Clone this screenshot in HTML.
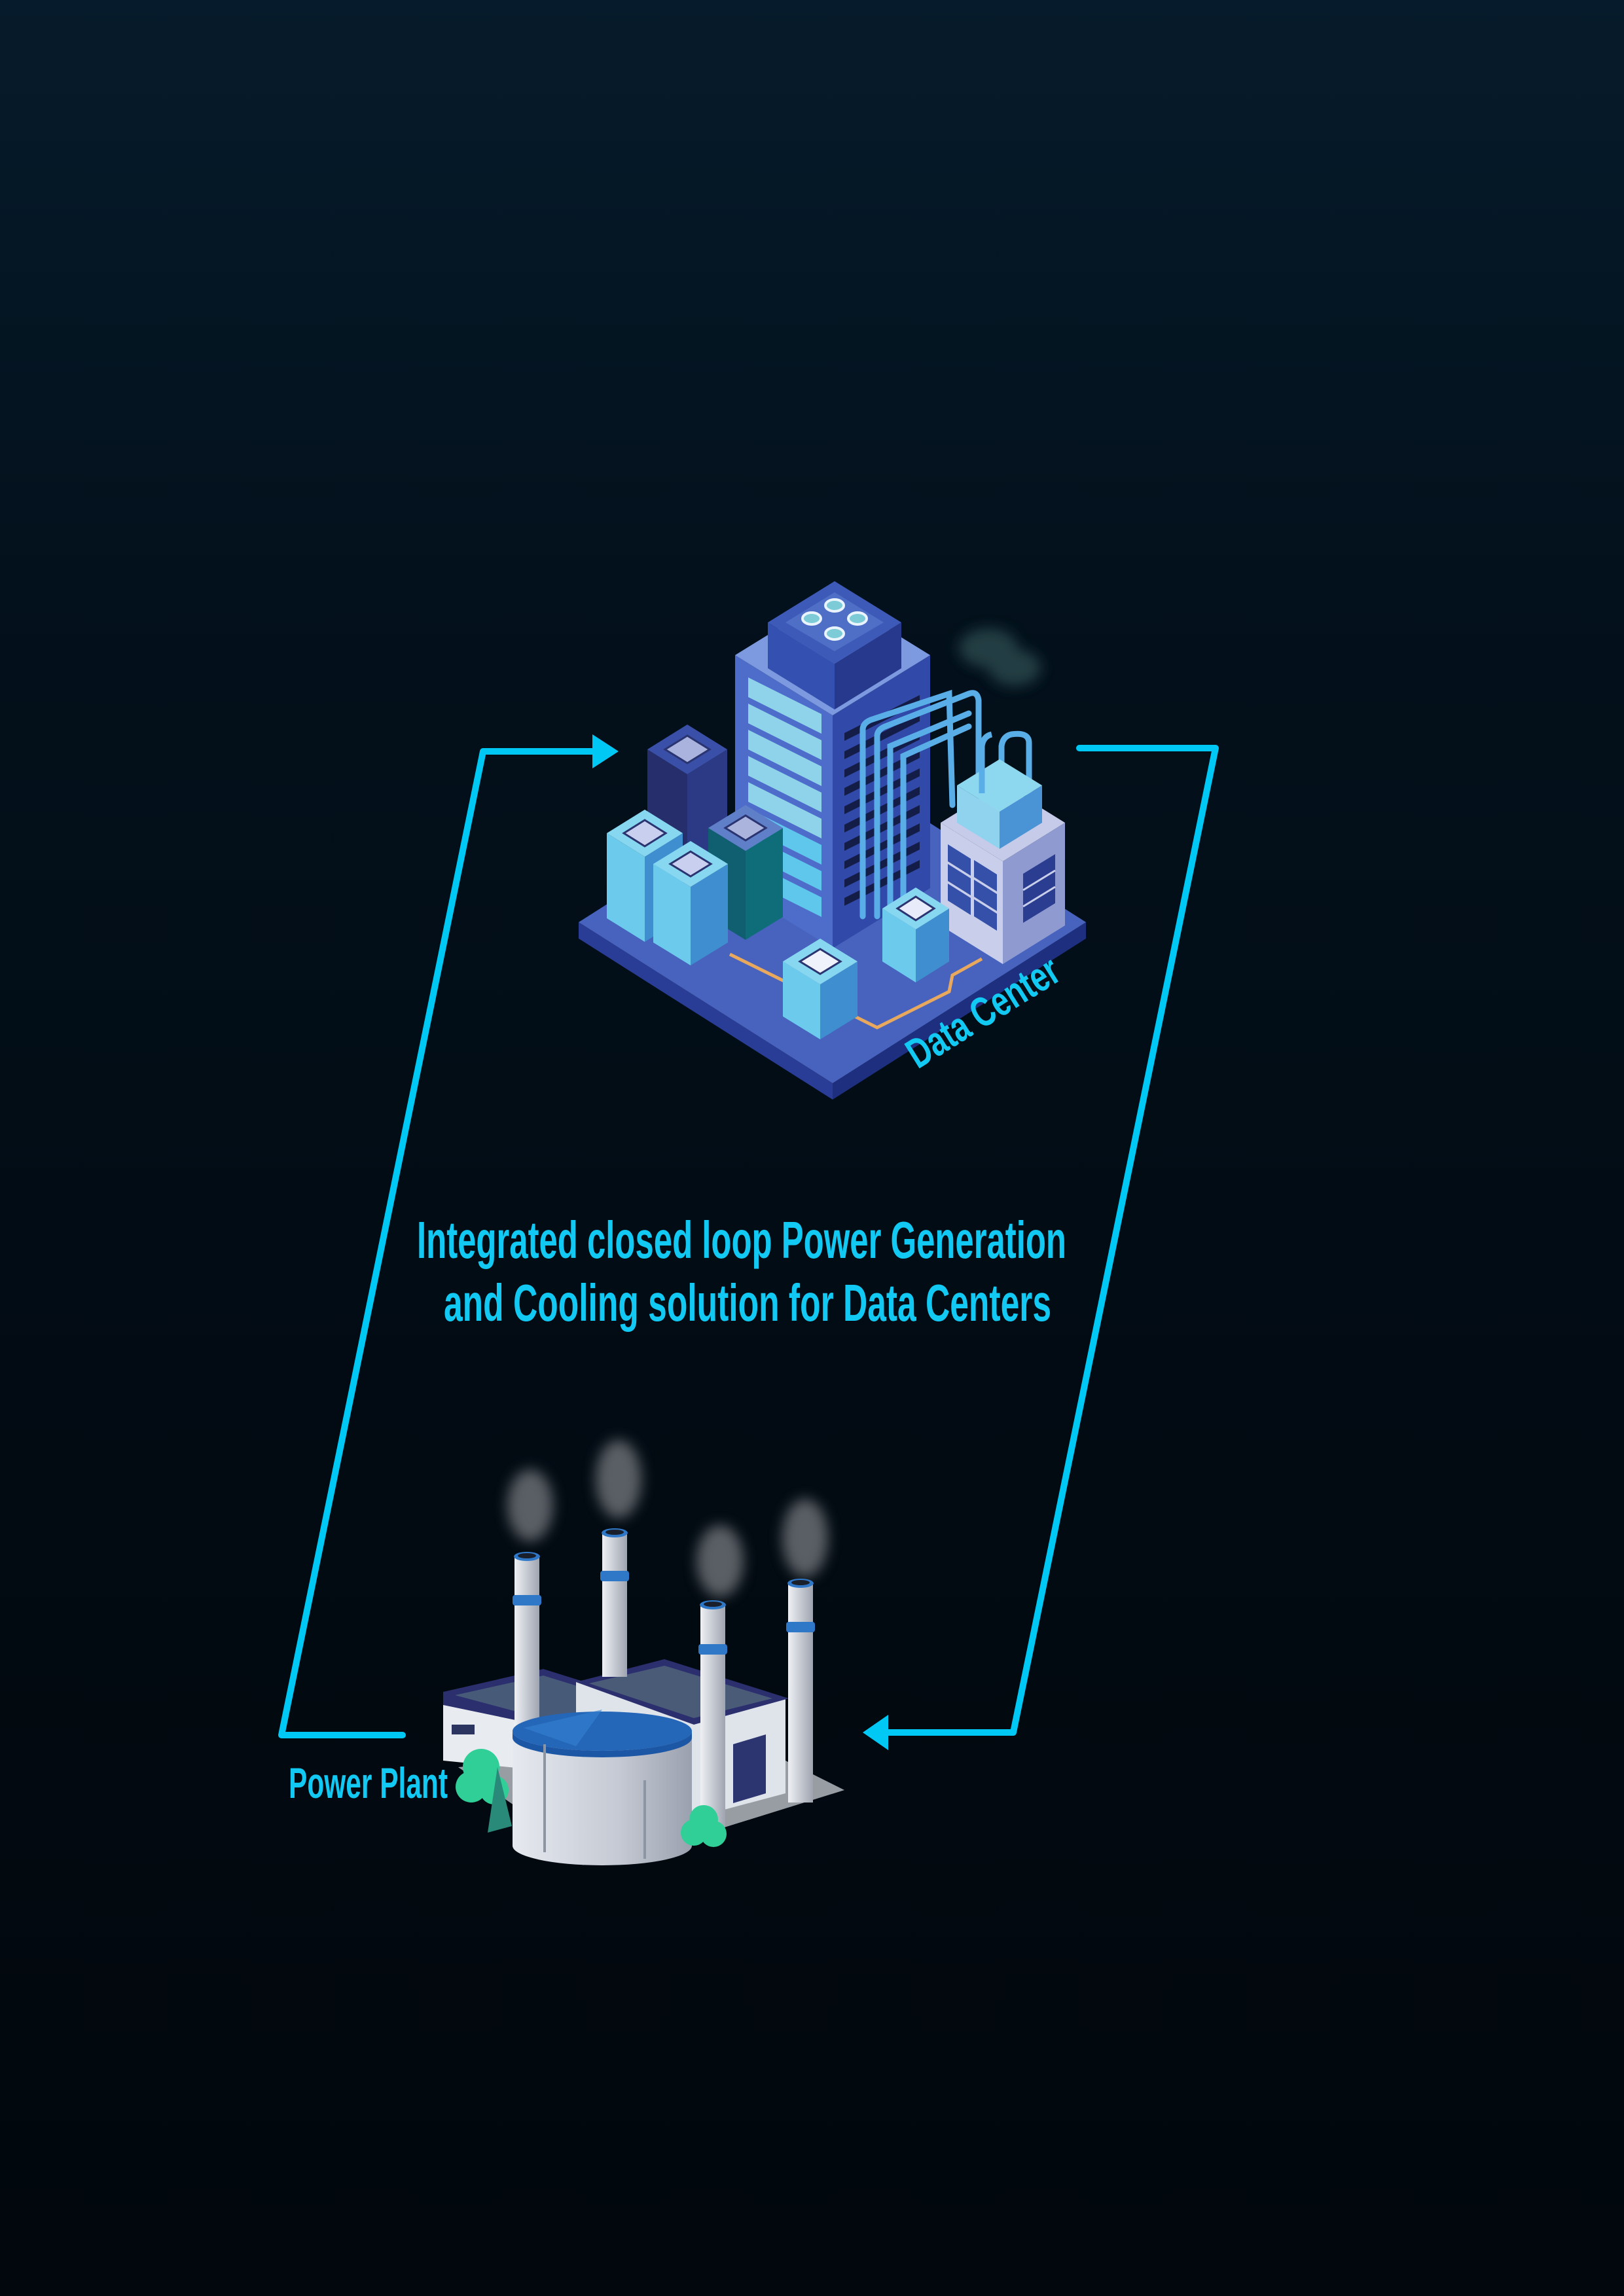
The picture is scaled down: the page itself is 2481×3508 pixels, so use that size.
<!DOCTYPE html>
<html><head><meta charset="utf-8"><style>
html,body{margin:0;padding:0;}
body{width:2481px;height:3508px;overflow:hidden;background:linear-gradient(180deg,#061b2b 0%,#03111c 25%,#020b13 60%,#01070c 100%);}
svg{position:absolute;left:0;top:0;}
</style></head><body>
<svg width="2481" height="3508" viewBox="0 0 2481 3508" xmlns="http://www.w3.org/2000/svg">
<defs>
<filter id="blur" x="-50%" y="-50%" width="200%" height="200%"><feGaussianBlur stdDeviation="10"/></filter>
<linearGradient id="tank" x1="0" x2="1"><stop offset="0" stop-color="#e6e9ef"/><stop offset="0.6" stop-color="#c4c9d3"/><stop offset="1" stop-color="#9aa1ae"/></linearGradient>
<linearGradient id="chim" x1="0" x2="1"><stop offset="0" stop-color="#eef0f4"/><stop offset="1" stop-color="#9ea4b0"/></linearGradient>
</defs>

<!-- connectors -->
<g fill="none" stroke="#00c8f5" stroke-width="10" stroke-linejoin="round" stroke-linecap="round">
<polyline points="615,2651 430,2651 738,1148 905,1148"/>
<polyline points="1649,1143 1857,1143 1548,2647 1355,2647"/>
</g>
<polygon points="945,1148 905,1122 905,1174" fill="#00c8f5"/>
<polygon points="1318,2647 1357,2620 1357,2674" fill="#00c8f5"/>

<!-- DATA CENTER -->
<polygon points="884,1409 1272,1655 1272,1680 884,1434" fill="#2a3d96"/>
<polygon points="1272,1655 1659,1409 1659,1434 1272,1680" fill="#1e2f80"/>
<polygon points="884,1409 1272,1163 1659,1409 1272,1655" fill="#4763bd"/>

<!-- navy tall -->
<polygon points="989,1145 1050,1183 1050,1413 989,1375" fill="#262f6c"/>
<polygon points="1111,1145 1050,1183 1050,1413 1111,1375" fill="#2c3a86"/>
<polygon points="1050,1107 1111,1145 1050,1183 989,1145" fill="#3a4fa8"/>
<polygon points="1050,1124 1084,1145 1050,1166 1016,1145" fill="#a9b3de" stroke="#2a3470" stroke-width="3"/>

<!-- tower -->
<polygon points="1123,1001 1272,1093 1272,1449 1123,1357" fill="#4e6cc9"/>
<polygon points="1421,1001 1272,1093 1272,1449 1421,1357" fill="#3149a8"/>
<polygon points="1272,909 1421,1001 1272,1093 1123,1001" fill="#7d9ae0"/>
<g fill="#8fd3ea">
<polygon points="1143,1035 1255,1091 1255,1121 1143,1065"/>
<polygon points="1143,1075 1255,1131 1255,1161 1143,1105"/>
<polygon points="1143,1115 1255,1171 1255,1201 1143,1145"/>
<polygon points="1143,1155 1255,1211 1255,1241 1143,1185"/>
<polygon points="1143,1195 1255,1251 1255,1281 1143,1225"/>
</g>
<g fill="#5fc6ec">
<polygon points="1143,1235 1255,1291 1255,1321 1143,1265"/>
<polygon points="1143,1275 1255,1331 1255,1361 1143,1305"/>
<polygon points="1143,1315 1255,1371 1255,1401 1143,1345"/>
</g>
<g fill="#141c48">
<polygon points="1290,1120 1405,1062 1405,1074 1290,1132"/>
<polygon points="1290,1148 1405,1090 1405,1102 1290,1160"/>
<polygon points="1290,1176 1405,1118 1405,1130 1290,1188"/>
<polygon points="1290,1204 1405,1146 1405,1158 1290,1216"/>
<polygon points="1290,1232 1405,1174 1405,1186 1290,1244"/>
<polygon points="1290,1260 1405,1202 1405,1214 1290,1272"/>
<polygon points="1290,1288 1405,1230 1405,1242 1290,1300"/>
<polygon points="1290,1316 1405,1258 1405,1270 1290,1328"/>
<polygon points="1290,1344 1405,1286 1405,1298 1290,1356"/>
<polygon points="1290,1372 1405,1314 1405,1326 1290,1384"/>
</g>
<!-- cap -->
<polygon points="1173,951 1275,1014 1275,1084 1173,1021" fill="#3450b0"/>
<polygon points="1377,951 1275,1014 1275,1084 1377,1021" fill="#27398c"/>
<polygon points="1275,888 1377,951 1275,1014 1173,951" fill="#3e5ab8"/>
<polygon points="1275,905 1350,951 1275,995 1200,951" fill="#4f6fc7"/>
<g fill="#7ccbd6" stroke="#e9f4ff" stroke-width="4">
<ellipse cx="1275" cy="925" rx="14" ry="9"/><ellipse cx="1240" cy="945" rx="14" ry="9"/><ellipse cx="1310" cy="945" rx="14" ry="9"/><ellipse cx="1275" cy="968" rx="14" ry="9"/>
</g>

<!-- teal -->
<polygon points="1082,1265 1139,1300 1139,1436 1082,1401" fill="#0f5f70"/>
<polygon points="1196,1265 1139,1300 1139,1436 1196,1401" fill="#0e6d79"/>
<polygon points="1139,1230 1196,1265 1139,1300 1082,1265" fill="#5f7fc8"/>
<polygon points="1139,1246 1170,1265 1139,1284 1108,1265" fill="#aab4dd" stroke="#2a3470" stroke-width="3"/>
<!-- light A -->
<polygon points="927,1273 985,1309 985,1439 927,1403" fill="#6ccbed"/>
<polygon points="1043,1273 985,1309 985,1439 1043,1403" fill="#3f8fd0"/>
<polygon points="985,1237 1043,1273 985,1309 927,1273" fill="#87d7f0"/>
<polygon points="985,1253 1017,1273 985,1293 953,1273" fill="#c9cfee" stroke="#2a3470" stroke-width="3"/>
<!-- light B -->
<polygon points="998,1320 1055,1355 1055,1475 998,1440" fill="#6ccbed"/>
<polygon points="1112,1320 1055,1355 1055,1475 1112,1440" fill="#3f8fd0"/>
<polygon points="1055,1285 1112,1320 1055,1355 998,1320" fill="#87d7f0"/>
<polygon points="1055,1301 1086,1320 1055,1339 1024,1320" fill="#c9cfee" stroke="#2a3470" stroke-width="3"/>

<!-- orange line -->
<polyline points="1115,1458 1200,1500 1260,1530 1340,1570 1450,1515 1455,1490 1500,1465" fill="none" stroke="#e8a85e" stroke-width="5"/>

<!-- pipes -->
<g fill="none" stroke="#5aaee8" stroke-width="9" stroke-linecap="round">
<path d="M1318,1400 L1318,1115 Q1318,1105 1330,1100 L1450,1060 L1455,1230"/>
<path d="M1340,1400 L1340,1125 Q1340,1115 1352,1110 L1480,1060 Q1493,1055 1495,1070 L1495,1200"/>
<path d="M1360,1400 L1360,1140 L1480,1090"/>
<path d="M1380,1400 L1380,1155 L1480,1110"/>
<path d="M1530,1200 L1530,1140 Q1532,1125 1545,1122 Q1572,1118 1572,1135 L1572,1225"/>
</g>

<!-- cooling building -->
<polygon points="1437,1257 1532,1316 1532,1473 1437,1414" fill="#c9cfea"/>
<polygon points="1627,1257 1532,1316 1532,1473 1627,1414" fill="#8f9ad0"/>
<polygon points="1532,1198 1627,1257 1532,1316 1437,1257" fill="#c5cbe8"/>
<g fill="#3550a8">
<polygon points="1448,1290 1483,1312 1483,1338 1448,1316"/>
<polygon points="1448,1320 1483,1342 1483,1368 1448,1346"/>
<polygon points="1448,1350 1483,1372 1483,1398 1448,1376"/>
<polygon points="1488,1314 1523,1336 1523,1362 1488,1340"/>
<polygon points="1488,1344 1523,1366 1523,1392 1488,1370"/>
<polygon points="1488,1374 1523,1396 1523,1422 1488,1400"/>
</g>
<polygon points="1563,1335 1612,1305 1612,1380 1563,1410" fill="#2a3d90"/>
<g stroke="#c9cfea" stroke-width="3"><line x1="1563" y1="1360" x2="1612" y2="1330"/><line x1="1563" y1="1385" x2="1612" y2="1355"/></g>
<!-- upper unit -->
<polygon points="1462,1200 1527,1240 1527,1297 1462,1257" fill="#8fd3ee"/>
<polygon points="1592,1200 1527,1240 1527,1297 1592,1257" fill="#4a94d6"/>
<polygon points="1527,1160 1592,1200 1527,1240 1462,1200" fill="#8dd8ef"/>
<path d="M1500,1212 L1500,1140 Q1502,1125 1515,1122" fill="none" stroke="#5aaee8" stroke-width="9"/>

<!-- right box -->
<polygon points="1348,1388 1399,1420 1399,1501 1348,1469" fill="#6ccbed"/>
<polygon points="1450,1388 1399,1420 1399,1501 1450,1469" fill="#3f8fd0"/>
<polygon points="1399,1356 1450,1388 1399,1420 1348,1388" fill="#87d7f0"/>
<polygon points="1399,1370 1427,1388 1399,1406 1371,1388" fill="#e8ecfa" stroke="#2a3470" stroke-width="3"/>
<!-- front box -->
<polygon points="1196,1469 1253,1504 1253,1588 1196,1553" fill="#6ccbed"/>
<polygon points="1310,1469 1253,1504 1253,1588 1310,1553" fill="#3f8fd0"/>
<polygon points="1253,1434 1310,1469 1253,1504 1196,1469" fill="#87d7f0"/>
<polygon points="1253,1450 1284,1469 1253,1488 1222,1469" fill="#f0f2fb" stroke="#2a3470" stroke-width="3"/>

<!-- cloud -->
<g filter="url(#blur)" fill="#2c4a4e" opacity="0.8">
<ellipse cx="1510" cy="990" rx="45" ry="30"/><ellipse cx="1550" cy="1020" rx="40" ry="28"/>
</g>

<!-- text -->
<g font-family="'Liberation Sans Narrow','Liberation Sans',sans-serif" fill="#11c9f2" font-weight="bold" font-size="80">
<text x="637" y="1922" textLength="992" lengthAdjust="spacingAndGlyphs">Integrated closed loop Power Generation</text>
<text x="678" y="2018" textLength="928" lengthAdjust="spacingAndGlyphs">and Cooling solution for Data Centers</text>
<text x="1402" y="1634" font-size="64" textLength="262" lengthAdjust="spacingAndGlyphs" transform="rotate(-32 1402 1634)">Data Center</text>
<text x="441" y="2747" font-size="66" textLength="243" lengthAdjust="spacingAndGlyphs">Power Plant</text>
</g>

<!-- POWER PLANT -->
<polygon points="700,2700 920,2850 1290,2735 1140,2660" fill="#d9dde4" opacity="0.7"/>
<polygon points="677,2590 830,2553 980,2605 980,2720 677,2690" fill="#e8ebf0"/>
<polygon points="677,2585 830,2550 990,2600 845,2640 677,2605" fill="#2b2f6e"/>
<polygon points="695,2590 830,2560 960,2600 845,2630" fill="#475a78"/>
<rect x="690" y="2635" width="35" height="15" fill="#2b3560"/>
<polygon points="880,2570 1015,2537 1200,2595 1200,2740 1050,2780 880,2700" fill="#dfe3ea"/>
<polygon points="880,2570 1015,2535 1205,2595 1060,2635" fill="#2b2f6e"/>
<polygon points="900,2572 1015,2545 1180,2595 1060,2625" fill="#4a5b78"/>
<polygon points="1120,2665 1170,2650 1170,2740 1120,2755" fill="#2c3570"/>
<rect x="786" y="2378" width="38" height="260" fill="url(#chim)"/>
<rect x="783" y="2437" width="44" height="16" rx="4" fill="#2f78c8"/>
<ellipse cx="805" cy="2378" rx="20" ry="7" fill="#2f78c8"/><ellipse cx="805" cy="2377" rx="14" ry="4" fill="#1a1f2c"/>
<rect x="920" y="2342" width="38" height="220" fill="url(#chim)"/>
<rect x="917" y="2400" width="44" height="16" rx="4" fill="#2f78c8"/>
<ellipse cx="939" cy="2342" rx="20" ry="7" fill="#2f78c8"/><ellipse cx="939" cy="2341" rx="14" ry="4" fill="#1a1f2c"/>
<g fill="#777b80" opacity="0.75" filter="url(#blur)">
<ellipse cx="810" cy="2300" rx="35" ry="55"/><ellipse cx="945" cy="2260" rx="35" ry="60"/>
<ellipse cx="1100" cy="2385" rx="36" ry="55"/><ellipse cx="1230" cy="2350" rx="35" ry="60"/>
</g>
<path d="M783,2650 L783,2820 A137,30 0 0 0 1057,2820 L1057,2650 Z" fill="url(#tank)"/>
<ellipse cx="920" cy="2645" rx="137" ry="30" fill="#2466b8"/>
<path d="M783,2645 A137,30 0 0 0 1057,2645 L1057,2655 A137,30 0 0 1 783,2655Z" fill="#1c57a6"/>
<polygon points="920,2612 800,2640 880,2668" fill="#3580d0" opacity="0.6"/>
<g stroke="#8e95a2" stroke-width="4"><line x1="832" y1="2665" x2="832" y2="2830"/><line x1="985" y1="2720" x2="985" y2="2840"/></g>
<rect x="1070" y="2452" width="38" height="340" fill="url(#chim)"/>
<rect x="1067" y="2512" width="44" height="16" rx="4" fill="#2f78c8"/>
<ellipse cx="1089" cy="2452" rx="20" ry="7" fill="#2f78c8"/><ellipse cx="1089" cy="2451" rx="14" ry="4" fill="#1a1f2c"/>
<rect x="1204" y="2419" width="38" height="335" fill="url(#chim)"/>
<rect x="1201" y="2478" width="44" height="16" rx="4" fill="#2f78c8"/>
<ellipse cx="1223" cy="2419" rx="20" ry="7" fill="#2f78c8"/><ellipse cx="1223" cy="2418" rx="14" ry="4" fill="#1a1f2c"/>
<g fill="#2fcf97"><circle cx="735" cy="2700" r="28"/><circle cx="720" cy="2730" r="24"/><circle cx="755" cy="2735" r="22"/></g>
<polygon points="760,2700 782,2790 745,2800" fill="#2a8a7a"/>
<g fill="#2fcf97"><circle cx="1075" cy="2780" r="22"/><circle cx="1060" cy="2800" r="20"/><circle cx="1090" cy="2802" r="20"/></g>
</svg>
</body></html>
